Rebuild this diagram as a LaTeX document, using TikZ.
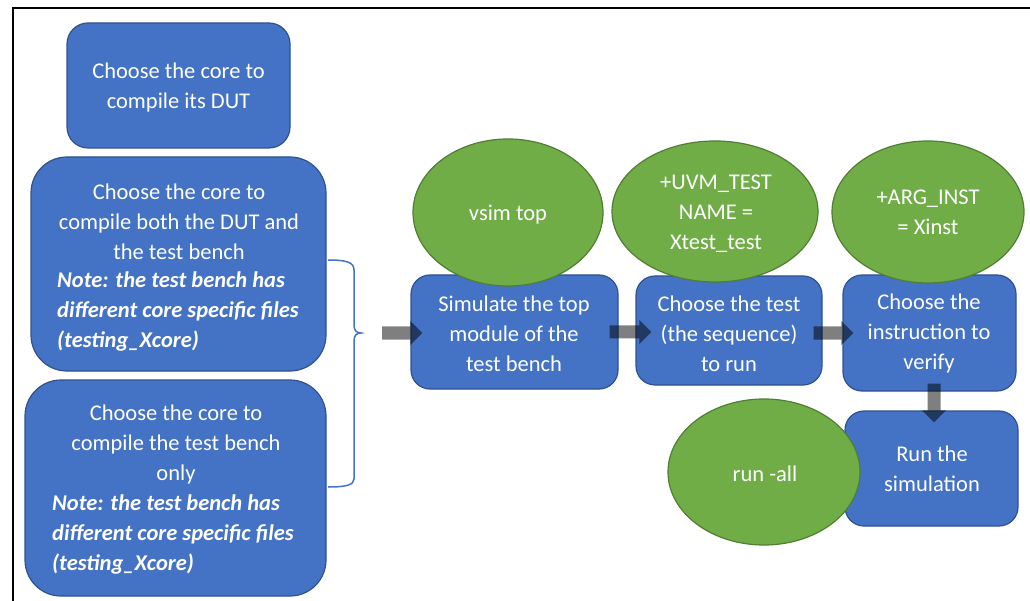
\documentclass[tikz,border=0pt]{standalone}
\usepackage{fontspec}
\setmainfont{Carlito}
\usetikzlibrary{shapes.geometric,calc}

\definecolor{boxblue}{HTML}{4472C4}
\definecolor{boxedge}{HTML}{2F528F}
\definecolor{ovalgreen}{HTML}{70AD47}
\definecolor{ovaledge}{HTML}{507E32}

\newcommand{\flowfont}{\fontsize{22.5}{30}\selectfont}

% thick half-transparent block arrows, drawn as one filled outline
\newcommand{\harrow}[2]{%
  \fill[flowarrow] ($(#1)+(0,-6.5)$) -- ($(#2)+(-12,-6.5)$) -- ($(#2)+(-12,-12)$)
    -- (#2) -- ($(#2)+(-12,12)$) -- ($(#2)+(-12,6.5)$) -- ($(#1)+(0,6.5)$) -- cycle;}
\newcommand{\varrow}[2]{%
  \fill[flowarrow] ($(#1)+(-6.5,0)$) -- ($(#2)+(-6.5,-12)$) -- ($(#2)+(-12,-12)$)
    -- (#2) -- ($(#2)+(12,-12)$) -- ($(#2)+(6.5,-12)$) -- ($(#1)+(6.5,0)$) -- cycle;}

\begin{document}
\begin{tikzpicture}[x=1pt,y=-1pt,
  stepbox/.style={draw=boxedge, line width=1.2pt, fill=boxblue, rounded corners=#1, inner sep=0pt},
  stepbox/.default=19pt,
  oval/.style={ellipse, draw=ovaledge, line width=1.2pt, fill=ovalgreen, inner sep=0pt},
  txt/.style={text=white, font=\flowfont, align=center, inner sep=0pt, yshift=-2pt},
  notetxt/.style={text=white, font=\flowfont\bfseries\itshape, align=left, inner sep=0pt,
    anchor=west, yshift=-1.5pt},
  flowarrow/.style={fill=black, fill opacity=0.5},
  bracket/.style={draw=boxblue, line width=1.5pt}
]
\useasboundingbox (0,0) rectangle (1030,601);

% frame
\draw[line width=2pt] (13,601) -- (13,8) -- (1030,8);

% left column: compile choices
\node[stepbox=21pt, minimum width=223pt, minimum height=125pt] (b1) at (178.5,85.5) {};
\node[stepbox=36pt, minimum width=295pt, minimum height=214pt] (b2) at (178.5,264) {};
\node[stepbox=36pt, minimum width=301pt, minimum height=216pt] (b3) at (175.5,488) {};

\node[txt] (t1) at (178.5,85.5) {Choose the core to\\compile its DUT};
\node[txt] (t2) at (179,219.5) {Choose the core to\\compile both the DUT and\\the test bench};
\node[notetxt] (n2) at (57,310) {Note: the test bench has\\different core specific files\\(testing\_Xcore)};
\node[txt] (t3) at (176,442.5) {Choose the core to\\compile the test bench\\only};
\node[notetxt] (n3) at (52,532.5) {Note: the test bench has\\different core specific files\\(testing\_Xcore)};

% brace joining the two test-bench choices
\coordinate (bracetip) at (361,333);
\draw[bracket] (328,260) .. controls (346,260) and (354,262) .. (354,270)
  -- (354,325) .. controls (354,330) and (356,333) .. (bracetip)
  .. controls (356,333) and (354,336) .. (354,341)
  -- (354,479) .. controls (354,485) and (346,487) .. (328,487);

% simulation flow
\node[stepbox, minimum width=207pt, minimum height=114pt] (b4) at (514.5,332) {};
\node[stepbox, minimum width=186pt, minimum height=109pt] (b5) at (729,330.5) {};
\node[stepbox, minimum width=173pt, minimum height=116pt] (b6) at (929.5,333) {};
\node[stepbox, minimum width=173pt, minimum height=115pt] (b7) at (931.5,468.5) {};

% arrows between the steps
\coordinate (a1s) at (382,333);
\coordinate (a1e) at ($(a1s -| b4.west)+(12,0)$);
\coordinate (a2s) at ($(b4.east)+(-9,0)$);
\coordinate (a2e) at ($(a2s -| b5.west)+(16,0)$);
\coordinate (a3s) at ($(b5.east |- b6.west)+(-9,0)$);
\coordinate (a3e) at ($(a3s -| b6.west)+(11,0)$);
\coordinate (a4s) at ($(b6.south)+(4.5,-8)$);
\coordinate (a4e) at ($(a4s |- b7.north)+(0,12)$);
\harrow{a1s}{a1e}
\harrow{a2s}{a2e}
\harrow{a3s}{a3e}
\varrow{a4s}{a4e}

\node[txt] (t4) at (514,332) {Simulate the top\\module of the\\test bench};
\node[txt] (t5) at (729,332) {Choose the test\\(the sequence)\\to run};
\node[txt] (t6) at (929,332) {Choose the\\instruction to\\verify};
\node[txt] (t7) at (932,467) {Run the\\simulation};

% commands for each step
\node[oval, minimum width=190pt, minimum height=147pt] (e1) at (508,212.5) {};
\node[oval, minimum width=206pt, minimum height=141pt] (e2) at (715,211.5) {};
\node[oval, minimum width=192pt, minimum height=142pt] (e3) at (928,212) {};
\node[oval, minimum width=192pt, minimum height=146pt] (e4) at (764,472) {};

\node[txt] (l1) at (508,213) {vsim top};
\node[txt] (l2) at (716,212) {+UVM\_TEST\\NAME =\\Xtest\_test};
\node[txt] (l3) at (928,210) {+ARG\_INST\\= Xinst};
\node[txt] (l4) at (765,472) {run -all};
\end{tikzpicture}
\end{document}
